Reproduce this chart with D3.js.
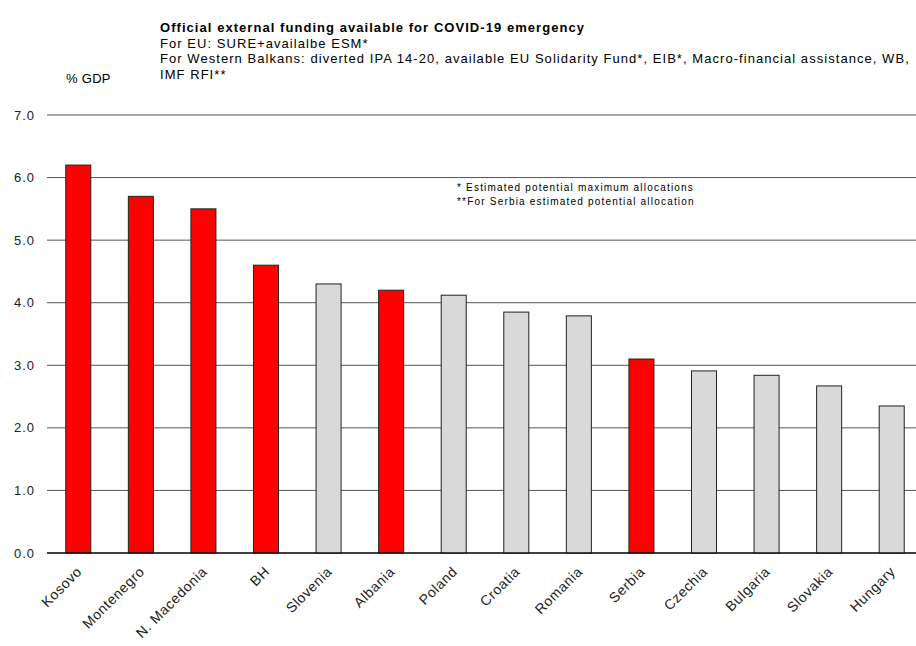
<!DOCTYPE html>
<html>
<head>
<meta charset="utf-8">
<script src="https://cdn.jsdelivr.net/npm/d3@7"></script>
<style>
body { margin: 0; background: #fff; }
text { font-family: "Liberation Sans", Arial, sans-serif; }
</style>
</head>
<body>
<div id="chart"></div>
<script>
var countries = ["Kosovo", "Montenegro", "N. Macedonia", "BH", "Slovenia", "Albania", "Poland",
	"Croatia", "Romania", "Serbia", "Czechia", "Bulgaria", "Slovakia", "Hungary"];
var values = [6.2, 5.7, 5.5, 4.6, 4.3, 4.2, 4.12, 3.85, 3.79, 3.1, 2.91, 2.84, 2.67, 2.35];
var westernBalkans = ["Kosovo", "Montenegro", "N. Macedonia", "BH", "Albania", "Serbia"];
var yTicks = [0, 1, 2, 3, 4, 5, 6, 7];
var titleLines = [
	"Official external funding available for COVID-19 emergency",
	"For EU: SURE+availalbe ESM*",
	"For Western Balkans: diverted IPA 14-20, available EU Solidarity Fund*, EIB*, Macro-financial assistance, WB,",
	"IMF RFI**"
];
var noteLines = ["* Estimated potential maximum allocations", "**For Serbia estimated potential allocation"];

var width = 916, height = 646;
var margin = {left: 47, top: 115, bottom: 93};

var svg = d3.select("#chart").append("svg")
	.attr("width", width)
	.attr("height", height);

var x_scale = d3.scaleBand()
	.domain(countries)
	.range([margin.left, 923])
	.paddingInner(0.6)
	.paddingOuter(0.3);

var y_scale = d3.scaleLinear()
	.domain([0, 7])
	.range([height - margin.bottom, margin.top]);

// gridlines
svg.append("g").attr("class", "grid")
	.selectAll("line")
	.data(yTicks)
	.enter()
	.append("line")
	.attr("x1", margin.left)
	.attr("x2", width)
	.attr("y1", function(d) { return y_scale(d); })
	.attr("y2", function(d) { return y_scale(d); })
	.attr("stroke", function(d) { return d == 0 ? "#000" : "#555"; })
	.attr("stroke-width", 1);

// y tick labels
svg.append("g").attr("class", "y_labels")
	.selectAll("text")
	.data(yTicks)
	.enter()
	.append("text")
	.attr("x", 35)
	.attr("y", function(d) { return y_scale(d); })
	.attr("dy", "0.35em")
	.attr("text-anchor", "end")
	.attr("font-size", "13px")
	.attr("letter-spacing", "1px")
	.attr("fill", "#222")
	.text(function(d) { return d.toFixed(1); });

// bars
svg.append("g").attr("class", "bars")
	.selectAll("rect")
	.data(values)
	.enter()
	.append("rect")
	.attr("x", function(d, i) { return x_scale(countries[i]); })
	.attr("y", function(d) { return y_scale(d); })
	.attr("width", x_scale.bandwidth())
	.attr("height", function(d) { return y_scale(0) - y_scale(d); })
	.attr("fill", function(d, i) {
		return westernBalkans.indexOf(countries[i]) != -1 ? "#ff0000" : "#d9d9d9";
	})
	.attr("stroke", "#222")
	.attr("stroke-width", 1);

// baseline on top
svg.append("line")
	.attr("x1", margin.left)
	.attr("x2", width)
	.attr("y1", y_scale(0))
	.attr("y2", y_scale(0))
	.attr("stroke", "#000");

// x labels
svg.append("g").attr("class", "x_labels")
	.selectAll("text")
	.data(countries)
	.enter()
	.append("text")
	.attr("transform", function(d) {
		var cx = x_scale(d) + x_scale.bandwidth() / 2 + 1;
		return "translate(" + cx + "," + (y_scale(0) + 16) + ") rotate(-45)";
	})
	.attr("text-anchor", "end")
	.attr("dy", "0.35em")
	.attr("font-size", "14px")
	.attr("letter-spacing", "0.6px")
	.attr("fill", "#222")
	.text(function(d) { return d; });

// title block
svg.append("g").attr("class", "title")
	.selectAll("text")
	.data(titleLines)
	.enter()
	.append("text")
	.attr("x", 160)
	.attr("y", function(d, i) { return 32 + i * 15.5; })
	.attr("font-size", "13px")
	.attr("letter-spacing", "1.05px")
	.attr("font-weight", function(d, i) { return i == 0 ? "bold" : "normal"; })
	.attr("fill", "#000")
	.text(function(d) { return d; });

svg.append("text")
	.attr("x", 66)
	.attr("y", 83)
	.attr("font-size", "13px")
	.attr("letter-spacing", "0.3px")
	.text("% GDP");

// notes
svg.append("g").attr("class", "notes")
	.selectAll("text")
	.data(noteLines)
	.enter()
	.append("text")
	.attr("x", 457)
	.attr("y", function(d, i) { return 191 + i * 14; })
	.attr("font-size", "10px")
	.attr("letter-spacing", "1.2px")
	.text(function(d) { return d; });
</script>
</body>
</html>
